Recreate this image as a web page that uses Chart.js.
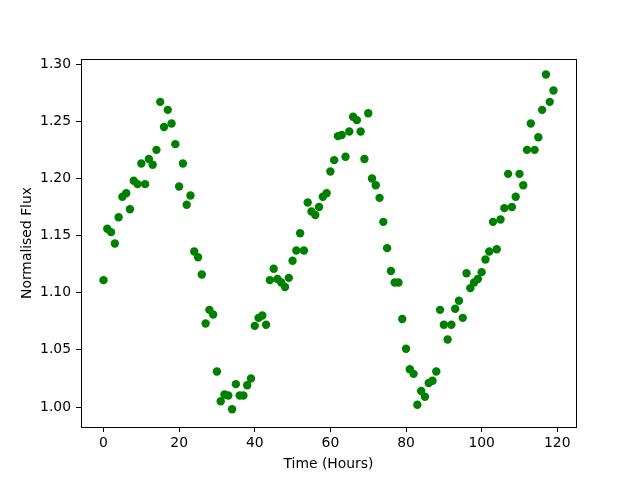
<!DOCTYPE html>
<html>
<head>
<meta charset="utf-8">
<script src="https://cdn.jsdelivr.net/npm/chart.js@4.4.0/dist/chart.umd.min.js"></script>
<style>
  html, body { margin: 0; padding: 0; background: #fff; }
  #wrap { width: 640px; height: 480px; }
</style>
</head>
<body>
<div id="wrap"><canvas id="flux"></canvas></div>
<script>
// observation times (hours)
var times = [0,1,2,3,4,5,6,7,8,9,10,11,12,13,14,15,16,17,18,19,
  20,21,22,23,24,25,26,27,28,29,30,31,32,33,34,35,36,37,38,39,
  40,41,42,43,44,45,46,47,48,49,50,51,52,53,54,55,56,57,58,59,
  60,61,62,63,64,65,66,67,68,69,70,71,72,73,74,75,76,77,78,79,
  80,81,82,83,84,85,86,87,88,89,90,91,92,93,94,95,96,97,98,99,
  100,101,102,103,104,105,106,107,108,109,110,111,112,113,114,115,116,117,118,119];

// normalised flux
var flux = [1.111,1.156,1.153,1.143,1.166,1.184,1.187,1.173,1.198,1.195,
  1.213,1.195,1.217,1.212,1.225,1.267,1.245,1.260,1.248,1.230,
  1.193,1.213,1.177,1.185,1.136,1.131,1.116,1.073,1.085,1.081,
  1.031,1.005,1.011,1.010,0.998,1.020,1.010,1.010,1.019,1.025,
  1.071,1.078,1.080,1.072,1.111,1.121,1.112,1.109,1.105,1.113,
  1.128,1.137,1.152,1.137,1.179,1.171,1.168,1.175,1.184,1.187,
  1.206,1.216,1.237,1.238,1.219,1.241,1.254,1.251,1.241,1.217,
  1.257,1.200,1.194,1.183,1.162,1.139,1.119,1.109,1.109,1.077,
  1.051,1.033,1.029,1.002,1.014,1.009,1.021,1.023,1.031,1.085,
  1.072,1.059,1.072,1.086,1.093,1.078,1.117,1.104,1.109,1.112,
  1.118,1.129,1.136,1.162,1.138,1.164,1.174,1.204,1.175,1.184,
  1.204,1.194,1.225,1.248,1.225,1.236,1.260,1.291,1.267,1.277];

var xTicks = [0,20,40,60,80,100,120];
var yTicks = [1.00,1.05,1.10,1.15,1.20,1.25,1.30];

var points = [];
for (var i = 0; i < times.length; i++) {
  points.push({x: times[i], y: flux[i]});
}

// black frame round the plot area, like matplotlib spines
var frame = {
  id: 'frame',
  afterDraw: function(chart) {
    var a = chart.chartArea, c = chart.ctx;
    c.save();
    c.strokeStyle = '#000';
    c.lineWidth = 1;
    c.strokeRect(Math.round(a.left) + 0.5, Math.round(a.top) + 0.5,
      Math.round(a.right - a.left), Math.round(a.bottom - a.top));
    c.restore();
  }
};

var font = {family: 'DejaVu Sans', size: 13.9};

new Chart(document.getElementById('flux'), {
  type: 'scatter',
  data: {
    datasets: [{
      data: points,
      backgroundColor: '#008000',
      borderColor: '#008000',
      borderWidth: 0,
      pointRadius: 4.2,
      pointHoverRadius: 4.2
    }]
  },
  options: {
    responsive: true,
    maintainAspectRatio: false,
    animation: false,
    events: [],
    layout: {padding: {top: 59, right: 64, left: 19, bottom: 0}},
    plugins: {legend: {display: false}, tooltip: {enabled: false}},
    scales: {
      x: {
        type: 'linear',
        min: -5.95,
        max: 124.95,
        afterBuildTicks: function(s) { s.ticks = xTicks.map(function(v) { return {value: v}; }); },
        afterFit: function(s) { s.height = 53; },
        grid: {display: true, drawOnChartArea: false, tickLength: 5, color: '#000', tickColor: '#000'},
        border: {display: false},
        ticks: {color: '#000', font: font, padding: 3, maxRotation: 0},
        title: {display: true, text: 'Time (Hours)', color: '#000', font: font, padding: {top: 0, bottom: 7}}
      },
      y: {
        type: 'linear',
        min: 0.9825,
        max: 1.3045,
        afterBuildTicks: function(s) { s.ticks = yTicks.map(function(v) { return {value: v}; }); },
        afterFit: function(s) { s.width = 62; },
        grid: {display: true, drawOnChartArea: false, tickLength: 5, color: '#000', tickColor: '#000'},
        border: {display: false},
        ticks: {color: '#000', font: font, padding: 5, callback: function(v) { return v.toFixed(2); }},
        title: {display: true, text: 'Normalised Flux', color: '#000', font: font, padding: {top: 0, bottom: 5}}
      }
    }
  },
  plugins: [frame]
});
</script>
</body>
</html>
